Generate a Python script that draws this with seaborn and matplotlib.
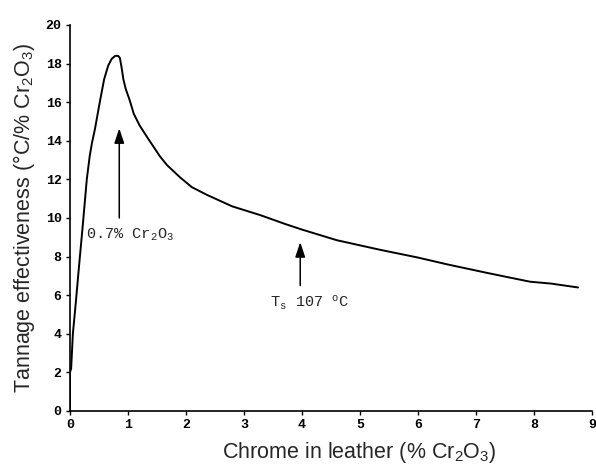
import matplotlib
matplotlib.use("Agg")
import matplotlib.pyplot as plt
import seaborn as sns
import pandas as pd

# Data
chrome = [0.0, 0.0, 0.02, 0.05, 0.10, 0.15, 0.22, 0.29, 0.34, 0.38, 0.43, 0.52, 0.59,
          0.66, 0.72, 0.78, 0.83, 0.86, 0.89, 0.92, 0.96, 1.03, 1.10, 1.20, 1.35,
          1.55, 1.67, 1.90, 2.10, 2.36, 2.80, 3.28, 3.70, 4.00, 4.60, 5.35, 6.00,
          6.50, 7.20, 7.93, 8.30, 8.76]
effect = [0.0, 2.0, 2.2, 4.0, 5.6, 7.3, 9.6, 12.0, 13.2, 13.9, 14.6, 16.1, 17.2,
          17.9, 18.25, 18.4, 18.4, 18.3, 17.8, 17.2, 16.7, 16.1, 15.4, 14.8, 14.1,
          13.2, 12.75, 12.1, 11.6, 11.2, 10.6, 10.15, 9.7, 9.4, 8.85, 8.35, 7.95,
          7.6, 7.15, 6.7, 6.6, 6.4]
x_ticks = [0, 1, 2, 3, 4, 5, 6, 7, 8, 9]
y_ticks = [0, 2, 4, 6, 8, 10, 12, 14, 16, 18, 20]

df = pd.DataFrame({"chrome": chrome, "effect": effect})

sns.set_style("ticks")
plt.rcParams["mathtext.default"] = "regular"

fig = plt.figure(figsize=(5.96, 4.68), dpi=100)
ax = fig.add_axes([0.1174, 0.1218, 0.8758, 0.8248])

sns.lineplot(data=df, x="chrome", y="effect", estimator=None, sort=False,
             color="black", linewidth=1.4, ax=ax)

ax.set_xlim(0, 9)
ax.set_ylim(0, 20)
ax.set_xticks(x_ticks)
ax.set_yticks(y_ticks)
mono = "Liberation Mono"
ax.set_xticklabels([str(t) for t in x_ticks], fontfamily=mono, fontweight="bold", fontsize=9.5)
ax.set_yticklabels([str(t) for t in y_ticks], fontfamily=mono, fontweight="bold", fontsize=9.5)
ax.tick_params(direction="out", length=3, width=1, colors="black", pad=3)
for s in ["top", "right"]:
    ax.spines[s].set_visible(False)
for s in ["left", "bottom"]:
    ax.spines[s].set_linewidth(1.2)
    ax.spines[s].set_color("black")

ax.set_xlabel("Chrome in leather (% Cr$_2$O$_3$)", fontfamily="Liberation Sans",
              fontsize=15.5)
ax.xaxis.set_label_coords(0.554, -0.075)
ax.set_ylabel("Tannage effectiveness (°C/% Cr$_2$O$_3$)", fontfamily="Liberation Sans",
              fontsize=15.5, labelpad=6)

arrow = dict(arrowstyle="-|>,head_length=0.9,head_width=0.3", color="black", lw=1.1,
             mutation_scale=10, shrinkA=0, shrinkB=0)
ax.annotate("", xy=(0.85, 14.65), xytext=(0.85, 10.0), arrowprops=arrow)
ax.annotate("", xy=(3.97, 8.75), xytext=(3.97, 6.5), arrowprops=arrow)

ax.text(0.28, 8.95, "0.7% Cr$_2$O$_3$", fontfamily=mono, fontsize=11, ha="left", va="baseline")
ax.text(3.45, 5.4, "T$_s$ 107 $^o$C", fontfamily=mono, fontsize=11, ha="left", va="baseline")

fig.savefig("out.png", dpi=100)
